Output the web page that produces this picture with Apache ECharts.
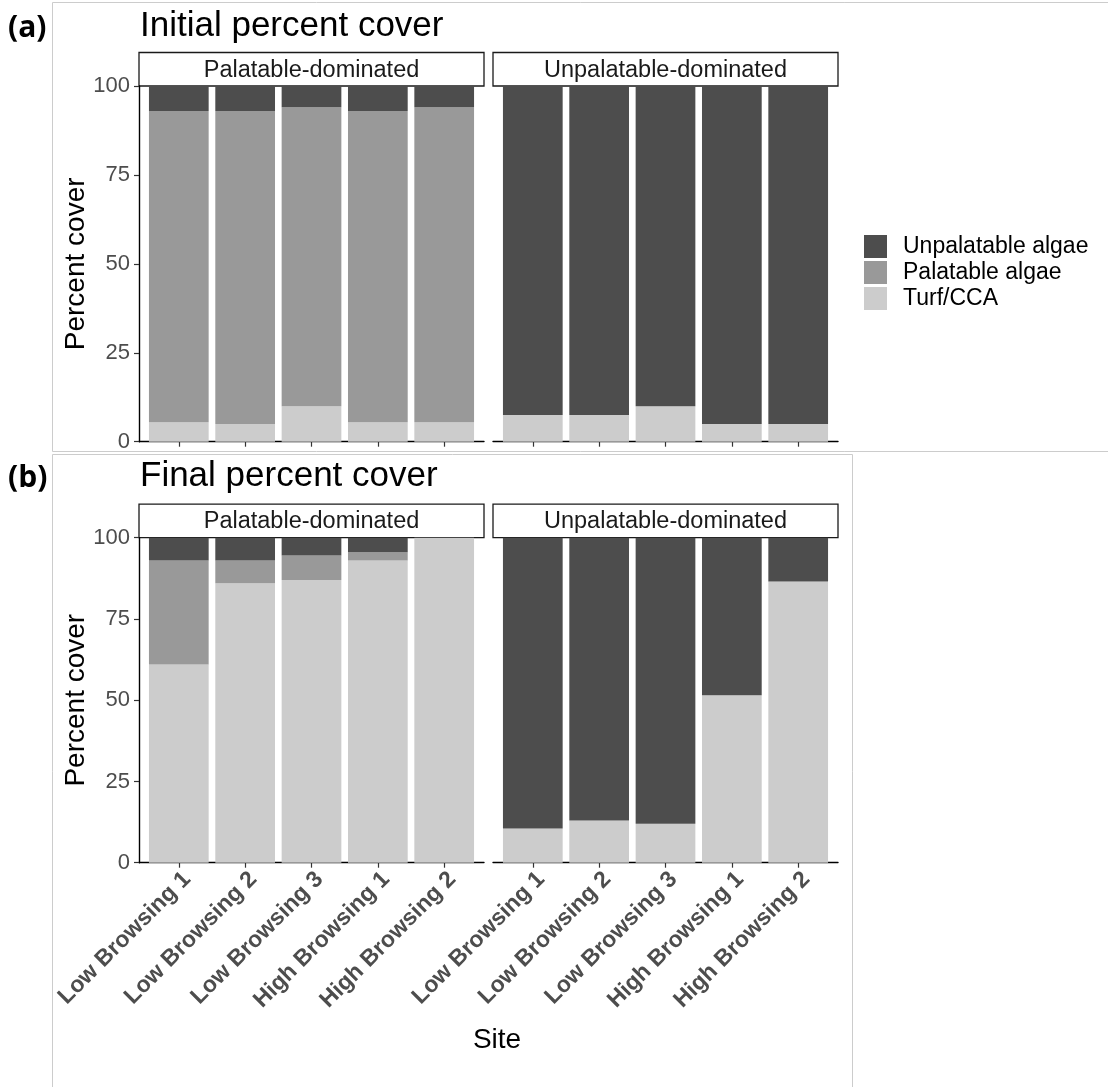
<!DOCTYPE html>
<html>
<head>
<meta charset="utf-8">
<script src="https://cdn.jsdelivr.net/npm/echarts@6/dist/echarts.min.js"></script>
<style>
  html, body { margin: 0; padding: 0; background: #ffffff; }
  #chart { width: 1108px; height: 1087px; }
</style>
</head>
<body>
<div id="chart"></div>
<script>
// Sites along the x axis of every panel
const sites = ['Low Browsing 1', 'Low Browsing 2', 'Low Browsing 3', 'High Browsing 1', 'High Browsing 2'];
const groups = ['Palatable-dominated', 'Unpalatable-dominated'];
const coverTypes = ['Unpalatable algae', 'Palatable algae', 'Turf/CCA'];
const yTicks = [0, 25, 50, 75, 100];

// Initial percent cover
const initialPalTurf = [5.5, 5, 10, 5.5, 5.5];
const initialPalPalatable = [87.5, 88, 84, 87.5, 88.5];
const initialPalUnpalatable = [7, 7, 6, 7, 6];
const initialUnpalTurf = [7.5, 7.5, 10, 5, 5];
const initialUnpalPalatable = [0, 0, 0, 0, 0];
const initialUnpalUnpalatable = [92.5, 92.5, 90, 95, 95];

// Final percent cover
const finalPalTurf = [61, 86, 87, 93, 100];
const finalPalPalatable = [32, 7, 7.5, 2.5, 0];
const finalPalUnpalatable = [7, 7, 5.5, 4.5, 0];
const finalUnpalTurf = [10.5, 13, 12, 51.5, 86.5];
const finalUnpalPalatable = [0, 0, 0, 0, 0];
const finalUnpalUnpalatable = [89.5, 87, 88, 48.5, 13.5];

const colors = { 'Unpalatable algae': '#4d4d4d', 'Palatable algae': '#999999', 'Turf/CCA': '#cccccc' };
const FONT = '"Liberation Sans", Arial, sans-serif';

// panel layout (pixels); each panel holds 5 category bands plus 0.6 band of padding per side
const colX = [[139, 484], [493, 838]];
const rowY = [[86, 441.7], [537.7, 862.7]];
const stripH = 33.5;
const PAD = 0.1 / 5.2; // fraction of panel width outside the outer bands

const panels = [
  { row: 0, col: 0, turf: initialPalTurf, pal: initialPalPalatable, unpal: initialPalUnpalatable },
  { row: 0, col: 1, turf: initialUnpalTurf, pal: initialUnpalPalatable, unpal: initialUnpalUnpalatable },
  { row: 1, col: 0, turf: finalPalTurf, pal: finalPalPalatable, unpal: finalPalUnpalatable },
  { row: 1, col: 1, turf: finalUnpalTurf, pal: finalUnpalPalatable, unpal: finalUnpalUnpalatable }
];

const grid = [], xAxis = [], yAxis = [], series = [], graphic = [];
const axisLineStyle = { color: '#000000', width: 1.4 };
const tickLineStyle = { color: '#333333', width: 1.2 };

panels.forEach((p, pi) => {
  const [x0, x1] = colX[p.col];
  const [y0, y1] = rowY[p.row];
  const w = x1 - x0;

  // frame grid: full panel width, carries the axis lines and y labels
  const fi = grid.length;
  grid.push({ left: x0, top: y0, width: w, height: y1 - y0 });
  xAxis.push({
    type: 'value', gridIndex: fi, min: 0, max: 1,
    splitLine: { show: false }, axisTick: { show: false }, axisLabel: { show: false },
    axisLine: { show: true, onZero: false, lineStyle: axisLineStyle }
  });
  yAxis.push({
    type: 'value', gridIndex: fi, min: yTicks[0], max: yTicks[yTicks.length - 1], interval: 25,
    show: p.col === 0, splitLine: { show: false },
    axisLine: { show: true, lineStyle: axisLineStyle },
    axisTick: { show: true, length: 5, lineStyle: tickLineStyle },
    axisLabel: { color: '#4d4d4d', fontSize: 22, fontFamily: FONT, margin: 9 }
  });

  // bar grid: the five site bands
  const bi = grid.length;
  grid.push({ left: x0 + w * PAD, top: y0, width: w * (1 - 2 * PAD), height: y1 - y0 });
  xAxis.push({
    type: 'category', gridIndex: bi, data: sites,
    axisLine: { show: false },
    axisTick: { show: true, alignWithLabel: true, length: 5, lineStyle: tickLineStyle },
    axisLabel: {
      show: p.row === 1, rotate: 45, margin: 5, interval: 0,
      align: 'right', verticalAlign: 'top',
      color: '#4d4d4d', fontSize: 23, fontWeight: 'bold', fontFamily: FONT
    }
  });
  yAxis.push({ type: 'value', gridIndex: bi, min: 0, max: 100, show: false, splitLine: { show: false } });

  [['Turf/CCA', p.turf], ['Palatable algae', p.pal], ['Unpalatable algae', p.unpal]].forEach(([name, vals]) => {
    series.push({
      type: 'bar', name, xAxisIndex: bi, yAxisIndex: bi, stack: 'cover' + pi,
      barWidth: '90%', itemStyle: { color: colors[name] },
      data: vals
    });
  });

  // facet strip
  graphic.push({
    type: 'rect', shape: { x: x0, y: y0 - stripH, width: w, height: stripH },
    style: { fill: '#ffffff', stroke: '#1a1a1a', lineWidth: 1.3 }
  });
  graphic.push({
    type: 'text', x: (x0 + x1) / 2, y: y0 - stripH / 2 + 1,
    style: { text: groups[p.col], font: '23.5px ' + FONT, fill: '#1a1a1a', align: 'center', verticalAlign: 'middle' }
  });
});

// figure frames
graphic.unshift(
  { type: 'rect', shape: { x: 52.5, y: 2.5, width: 1070, height: 449 }, style: { fill: 'none', stroke: '#cccccc', lineWidth: 1 } },
  { type: 'rect', shape: { x: 52.5, y: 454.5, width: 800, height: 650 }, style: { fill: 'none', stroke: '#cccccc', lineWidth: 1 } }
);

// titles and axis titles
graphic.push(
  { type: 'text', x: 8, y: 28, style: { text: '(a)', font: 'bold 30px "Open Sans", sans-serif', fill: '#000', verticalAlign: 'middle' } },
  { type: 'text', x: 140, y: 26, style: { text: 'Initial percent cover', font: '35px ' + FONT, fill: '#000', verticalAlign: 'middle' } },
  { type: 'text', x: 8, y: 478, style: { text: '(b)', font: 'bold 30px "Open Sans", sans-serif', fill: '#000', verticalAlign: 'middle' } },
  { type: 'text', x: 140, y: 476, style: { text: 'Final percent cover', font: '35px ' + FONT, fill: '#000', verticalAlign: 'middle' } },
  { type: 'text', x: 76, y: (rowY[0][0] + rowY[0][1]) / 2, rotation: Math.PI / 2,
    style: { text: 'Percent cover', font: '28px ' + FONT, fill: '#000', align: 'center', verticalAlign: 'middle' } },
  { type: 'text', x: 76, y: (rowY[1][0] + rowY[1][1]) / 2, rotation: Math.PI / 2,
    style: { text: 'Percent cover', font: '28px ' + FONT, fill: '#000', align: 'center', verticalAlign: 'middle' } },
  { type: 'text', x: 497, y: 1040, style: { text: 'Site', font: '28px ' + FONT, fill: '#000', align: 'center', verticalAlign: 'middle' } }
);

const chart = echarts.init(document.getElementById('chart'), null, { renderer: 'canvas' });
chart.setOption({
  animation: false,
  backgroundColor: '#ffffff',
  grid, xAxis, yAxis, series, graphic,
  legend: {
    data: coverTypes, orient: 'vertical', left: 864, top: 235, padding: 0,
    itemWidth: 23, itemHeight: 23, itemGap: 3, icon: 'rect',
    textStyle: { fontSize: 23, color: '#000', fontFamily: FONT, padding: [0, 0, 0, 11] },
    selectedMode: false
  }
});
</script>
</body>
</html>
